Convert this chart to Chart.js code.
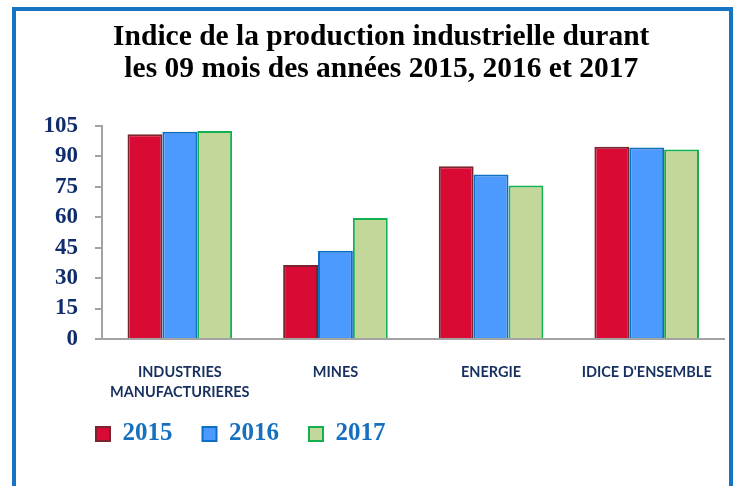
<!DOCTYPE html>
<html>
<head>
<meta charset="utf-8">
<script src="https://cdn.jsdelivr.net/npm/chart.js@4"></script>
<style>
  html, body { margin: 0; padding: 0; background: #fff; overflow: hidden; }
  #cadre { position: absolute; left: 12px; top: 7px; width: 713px; height: 500px; border: 4px solid #1674c2; }
  #zone { position: absolute; left: 0; top: 0; width: 739px; height: 486px; }
</style>
</head>
<body>
<div id="cadre"></div>
<div id="zone"><canvas id="indiceChart"></canvas></div>
<script>
// --- 1. Données ---
const categories = [['INDUSTRIES', 'MANUFACTURIERES'], 'MINES', 'ENERGIE', "IDICE D'ENSEMBLE"];
const years = ['2015', '2016', '2017'];
const values2015 = [100.8, 36.4, 85.1, 94.6];
const values2016 = [102.0, 43.4, 81.0, 94.3];
const values2017 = [102.4, 59.6, 75.6, 93.3];
const yMin = 0, yMax = 105, yStep = 15;

// --- 2. Styles ---
const fills = ['#d90a34', '#4d9aff', '#c4d79b'];
const borders = ['#7a2430', '#0e6fc2', '#12b04e'];
const allValues = [values2015, values2016, values2017];

// place la légende sous l'axe, alignée comme dans Excel
const legendShift = {
    id: 'legendShift',
    afterLayout(chart) {
        chart.legend.left = 66;
        chart.legend.top = 391.5;
    }
};

// --- 3. Graphique ---
const ctx = document.getElementById('indiceChart').getContext('2d');
const indiceChart = new Chart(ctx, {
    type: 'bar',
    data: {
        labels: categories,
        datasets: years.map((y, i) => ({
            label: y,
            data: allValues[i],
            backgroundColor: fills[i],
            borderColor: borders[i],
            borderWidth: 2,
            categoryPercentage: 0.672,
            barPercentage: 1.0
        }))
    },
    plugins: [legendShift],
    options: {
        responsive: true,
        maintainAspectRatio: false,
        animation: false,
        layout: { padding: { top: 0, left: 38, right: 14.5, bottom: 19 } },
        plugins: {
            title: {
                display: true,
                text: ['Indice de la production industrielle durant', 'les 09 mois des années 2015, 2016 et 2017'],
                color: '#000',
                font: { family: 'Liberation Serif', size: 29.5, weight: 'bold', lineHeight: '32px' },
                padding: { top: 21, bottom: 40.7 }
            },
            legend: {
                position: 'bottom',
                align: 'start',
                labels: {
                    boxWidth: 14,
                    boxHeight: 14,
                    padding: 30,
                    color: '#1570c0',
                    font: { family: 'Liberation Serif', size: 25, weight: 'bold' }
                }
            },
            tooltip: { enabled: false }
        },
        scales: {
            x: {
                grid: { display: false, drawTicks: false },
                border: { display: true, color: '#a3a3a3', width: 2 },
                ticks: {
                    padding: 23,
                    maxRotation: 0,
                    color: '#17305f',
                    font: { family: 'Lato', size: 14.5, weight: 'bold', lineHeight: '20px' }
                },
                afterFit: s => { s.height = 63; }
            },
            y: {
                min: yMin,
                max: yMax,
                grid: { drawOnChartArea: false, drawTicks: true, tickLength: 7, color: '#a3a3a3', lineWidth: 2 },
                border: { display: true, color: '#a3a3a3', width: 2 },
                ticks: {
                    stepSize: yStep,
                    autoSkip: false,
                    padding: 17,
                    color: '#0f2d6c',
                    font: { family: 'Liberation Serif', size: 23, weight: 'bold' }
                },
                afterFit: s => { s.width = 64; }
            }
        }
    }
});
</script>
</body>
</html>
